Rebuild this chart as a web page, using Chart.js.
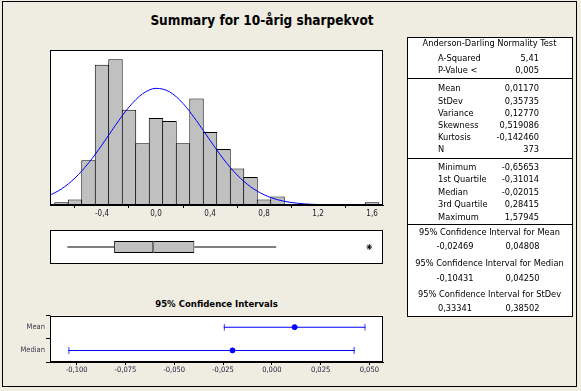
<!DOCTYPE html>
<html>
<head>
<meta charset="utf-8">
<script src="https://cdn.jsdelivr.net/npm/chart.js@4.4.0/dist/chart.umd.min.js"></script>
<style>
  html, body { margin: 0; padding: 0; }
  body { width: 581px; height: 391px; background: #EFECE1; position: relative; overflow: hidden;
         font-family: "DejaVu Sans Condensed", "DejaVu Sans", sans-serif; color: #000; }
  #outer { position: absolute; left: 2px; top: 1px; width: 575px; height: 386px; border: 1px solid #000; box-sizing: border-box; }
  #title { position: absolute; left: 0; width: 524px; top: 10px; text-align: center; font-weight: bold; font-size: 13.5px; line-height: 20px; }
  #cititle { position: absolute; left: 50px; width: 333px; top: 297px; text-align: center; font-weight: bold; font-size: 9.5px; line-height: 14px; }
  canvas { position: absolute; }
  #table { position: absolute; left: 407px; top: 37px; width: 166px; height: 280px; background: #fff; border: 1px solid #000; box-sizing: border-box; }
  .sep { position: absolute; left: 407px; width: 166px; height: 1px; background: #000; }
  .t { position: absolute; font-size: 9.2px; line-height: 12px; white-space: nowrap; }
</style>
</head>
<body>
<div id="outer"></div>
<div id="title">Summary for 10-årig sharpekvot</div>
<canvas id="hist" width="400" height="190" style="left:0;top:40px"></canvas>
<canvas id="box" width="400" height="45" style="left:0;top:225px"></canvas>
<div id="cititle">95% Confidence Intervals</div>
<canvas id="ci" width="400" height="75" style="left:0;top:310px"></canvas>
<div id="table"></div>
<div id="tabletext"></div>
<script>
// ---------------- data ----------------
const binCenters = [-0.7,-0.6,-0.5,-0.4,-0.3,-0.2,-0.1,0.0,0.1,0.2,0.3,0.4,0.5,0.6,0.7,0.8,0.9,1.0,1.1,1.2,1.3,1.4,1.5,1.6];
const binCounts  = [1,2,16,50,52,34,22,31,30,22,38,26,20,13,10,2,3,null,null,null,null,null,null,1];
const curveX = [-0.8,-0.7,-0.6,-0.5,-0.4,-0.3,-0.2,-0.1,0.0,0.1,0.2,0.3,0.4,0.5,0.6,0.7,0.8,0.9,1.0,1.1,1.2,1.3];
const curveY = [3.16,5.73,9.62,14.94,21.44,28.47,34.94,39.65,41.62,40.39,36.24,30.07,23.08,16.37,10.74,6.52,3.66,1.90,0.91,0.40,0.17,0.06];
const histTicks = [-0.4,0.0,0.4,0.8,1.2,1.6];
const histTickLabels = ['-0,4','0,0','0,4','0,8','1,2','1,6'];

const boxLabel = ['10-årig sharpekvot'];
const boxWhiskerLow = [-0.65653];
const boxQ1 = [-0.31014];
const boxMedian = [-0.02015];
const boxQ3 = [0.28415];
const boxWhiskerHigh = [0.89];
const boxOutliers = [1.57945];

const ciLabels = ['Mean','Median'];
const ciEstimate = [0.01170,-0.02015];
const ciLow = [-0.02469,-0.10431];
const ciHigh = [0.04808,0.04250];
const ciTicks = [-0.100,-0.075,-0.050,-0.025,0.000,0.025,0.050];
const ciTickLabels = ['-0,100','-0,075','-0,050','-0,025','0,000','0,025','0,050'];

const adHeader = 'Anderson-Darling Normality Test';
const adLabels = ['A-Squared','P-Value <'];
const adValues = ['5,41','0,005'];
const descLabels = ['Mean','StDev','Variance','Skewness','Kurtosis','N'];
const descValues = ['0,01170','0,35735','0,12770','0,519086','-0,142460','373'];
const quantLabels = ['Minimum','1st Quartile','Median','3rd Quartile','Maximum'];
const quantValues = ['-0,65653','-0,31014','-0,02015','0,28415','1,57945'];
const ciTitles = ['95% Confidence Interval for Mean','95% Confidence Interval for Median','95% Confidence Interval for StDev'];
const ciTableLow = ['-0,02469','-0,10431','0,33341'];
const ciTableHigh = ['0,04808','0,04250','0,38502'];

// ---------------- setup ----------------
Chart.defaults.font.family = '"DejaVu Sans Condensed", "DejaVu Sans", sans-serif';
Chart.defaults.animation = false;
Chart.defaults.responsive = false;
Chart.defaults.devicePixelRatio = 1;
Chart.defaults.plugins.legend.display = false;
Chart.defaults.plugins.tooltip.enabled = false;

const HX_MIN = -0.785, HX_MAX = 1.681;

const framePlugin = {
  id: 'frame',
  beforeDatasetsDraw(chart) {
    const a = chart.chartArea, ctx = chart.ctx;
    ctx.save(); ctx.fillStyle = '#fff';
    ctx.fillRect(a.left, a.top, a.right - a.left, a.bottom - a.top);
    ctx.restore();
  },
  afterDraw(chart) {
    const a = chart.chartArea, ctx = chart.ctx;
    ctx.save(); ctx.strokeStyle = '#000'; ctx.lineWidth = 1;
    const l = Math.round(a.left) + 0.5, t = Math.round(a.top) + 0.5;
    const r = Math.round(a.right) - 0.5, b = Math.round(a.bottom) - 0.5;
    ctx.strokeRect(l, t, r - l, b - t);
    ctx.restore();
  }
};

// ---------------- histogram ----------------
new Chart(document.getElementById('hist'), {
  type: 'bar',
  data: {
    datasets: [
      { type: 'line', data: curveX.map((x, i) => ({x, y: curveY[i]})), borderColor: '#0000FF', borderWidth: 1,
        pointRadius: 0, cubicInterpolationMode: 'monotone', fill: false, order: 0 },
      { type: 'bar', data: binCenters.map((x, i) => ({x, y: binCounts[i]})), backgroundColor: '#C0C0C0',
        borderColor: '#000', borderWidth: 1, borderSkipped: false, barPercentage: 1.07, categoryPercentage: 1,
        inflateAmount: 0, order: 1 }
    ]
  },
  options: {
    layout: { padding: { left: 50, right: 17, top: 10, bottom: 5 } },
    scales: {
      x: { type: 'linear', min: HX_MIN, max: HX_MAX, offset: false,
           afterFit: s => { s.height = 20; },
           afterBuildTicks: s => { s.ticks = histTicks.map(v => ({value: v})); },
           ticks: { callback: (v, i) => histTickLabels[i], font: { size: 8 }, color: '#1a1a2a', padding: 1, maxRotation: 0, autoSkip: false },
           grid: { display: true, drawOnChartArea: false, drawTicks: true, tickLength: 3, color: '#000' },
           border: { display: true, color: '#000' } },
      y: { type: 'linear', min: 0, max: 55.3, display: false }
    }
  },
  plugins: [framePlugin]
});

// ---------------- boxplot ----------------
new Chart(document.getElementById('box'), {
  type: 'bar',
  data: {
    labels: boxLabel,
    datasets: [
      { data: boxLabel.map((_, i) => [boxWhiskerLow[i], boxQ1[i]]), barThickness: 1, backgroundColor: '#000', grouped: false, inflateAmount: 0 },
      { data: boxLabel.map((_, i) => [boxQ3[i], boxWhiskerHigh[i]]), barThickness: 1, backgroundColor: '#000', grouped: false, inflateAmount: 0 },
      { data: boxLabel.map((_, i) => [boxQ1[i], boxMedian[i]]), barThickness: 12, backgroundColor: '#C0C0C0', borderColor: '#000', borderWidth: 1, borderSkipped: false, grouped: false, inflateAmount: 0 },
      { data: boxLabel.map((_, i) => [boxMedian[i], boxQ3[i]]), barThickness: 12, backgroundColor: '#C0C0C0', borderColor: '#000', borderWidth: 1, borderSkipped: false, grouped: false, inflateAmount: 0 },
      { type: 'line', data: boxOutliers.map(v => ({x: v, y: boxLabel[0]})), showLine: false, pointStyle: 'star', pointRadius: 2.8,
        borderColor: '#000', pointBorderColor: '#000', pointBorderWidth: 1 }
    ]
  },
  options: {
    indexAxis: 'y',
    layout: { padding: { left: 50, right: 17, top: 4, bottom: 6 } },
    scales: {
      x: { type: 'linear', min: HX_MIN, max: HX_MAX, display: false },
      y: { type: 'category', display: false }
    }
  },
  plugins: [framePlugin]
});

// ---------------- confidence intervals ----------------
const CI_MIN = -0.1137, CI_MAX = 0.0570;
new Chart(document.getElementById('ci'), {
  type: 'bar',
  data: {
    labels: ciLabels,
    datasets: [
      { data: ciLabels.map((_, i) => [ciLow[i], ciHigh[i]]), barThickness: 1, backgroundColor: '#0000FF', grouped: false, inflateAmount: 0 },
      { data: ciLabels.map((_, i) => [ciLow[i], ciHigh[i]]), barThickness: 7, backgroundColor: 'rgba(0,0,0,0)', borderColor: '#0000FF',
        borderWidth: {left: 1, right: 1, top: 0, bottom: 0}, borderSkipped: false, grouped: false, inflateAmount: 0 },
      { type: 'line', data: ciLabels.map((l, i) => ({x: ciEstimate[i], y: l})), showLine: false, pointRadius: 2.5,
        pointBackgroundColor: '#0000FF', pointBorderColor: '#0000FF', borderColor: '#0000FF' }
    ]
  },
  options: {
    indexAxis: 'y',
    layout: { padding: { left: 0, right: 17, top: 3, bottom: 5 } },
    scales: {
      x: { type: 'linear', min: CI_MIN, max: CI_MAX, offset: false,
           afterFit: s => { s.height = 18; },
           afterBuildTicks: s => { s.ticks = ciTicks.map(v => ({value: v})); },
           ticks: { callback: (v, i) => ciTickLabels[i], font: { size: 7.5 }, color: '#1a1a3a', padding: 1, maxRotation: 0, autoSkip: false },
           grid: { display: true, drawOnChartArea: false, drawTicks: true, tickLength: 3, color: '#000' },
           border: { display: true, color: '#000' } },
      y: { type: 'category', offset: true,
           afterFit: s => { s.width = 50; },
           ticks: { font: { size: 7.5 }, color: '#3a3a4a', padding: 1 },
           grid: { display: true, drawOnChartArea: false, drawTicks: true, tickLength: 4, color: '#000' },
           border: { display: true, color: '#000' } }
    }
  },
  plugins: [framePlugin]
});

// ---------------- statistics table (HTML text) ----------------
const tt = document.getElementById('tabletext');
function addText(txt, x, yc, align) {
  const d = document.createElement('div');
  d.className = 't';
  d.textContent = txt;
  d.style.top = (yc - 6) + 'px';
  if (align === 'left') { d.style.left = x + 'px'; }
  else if (align === 'right') { d.style.right = (581 - x) + 'px'; }
  else { d.style.left = (x - 100) + 'px'; d.style.width = '200px'; d.style.textAlign = 'center'; }
  tt.appendChild(d);
}
function addSep(y) {
  const d = document.createElement('div'); d.className = 'sep'; d.style.top = y + 'px'; tt.appendChild(d);
}
const LX = 438, RX = 539, CX = 489.5;
addText(adHeader, CX, 42.5, 'center');
const adY = [57.7, 70];
adLabels.forEach((l, i) => { addText(l, LX, adY[i], 'left'); addText(adValues[i], RX, adY[i], 'right'); });
addSep(78);
const descY = [88.3, 100.5, 112.7, 124.9, 137.1, 149.3];
descLabels.forEach((l, i) => { addText(l, LX, descY[i], 'left'); addText(descValues[i], RX, descY[i], 'right'); });
addSep(158);
const quantY = [167, 179.3, 191.7, 204, 216.5];
quantLabels.forEach((l, i) => { addText(l, LX, quantY[i], 'left'); addText(quantValues[i], RX, quantY[i], 'right'); });
addSep(224);
const ciTitleY = [231.7, 262.5, 293.8];
const ciValY = [246.3, 277.5, 308.3];
ciTitles.forEach((t, i) => {
  addText(t, CX, ciTitleY[i], 'center');
  addText(ciTableLow[i], 455, ciValY[i], 'center');
  addText(ciTableHigh[i], 522.5, ciValY[i], 'center');
});
</script>
</body>
</html>
